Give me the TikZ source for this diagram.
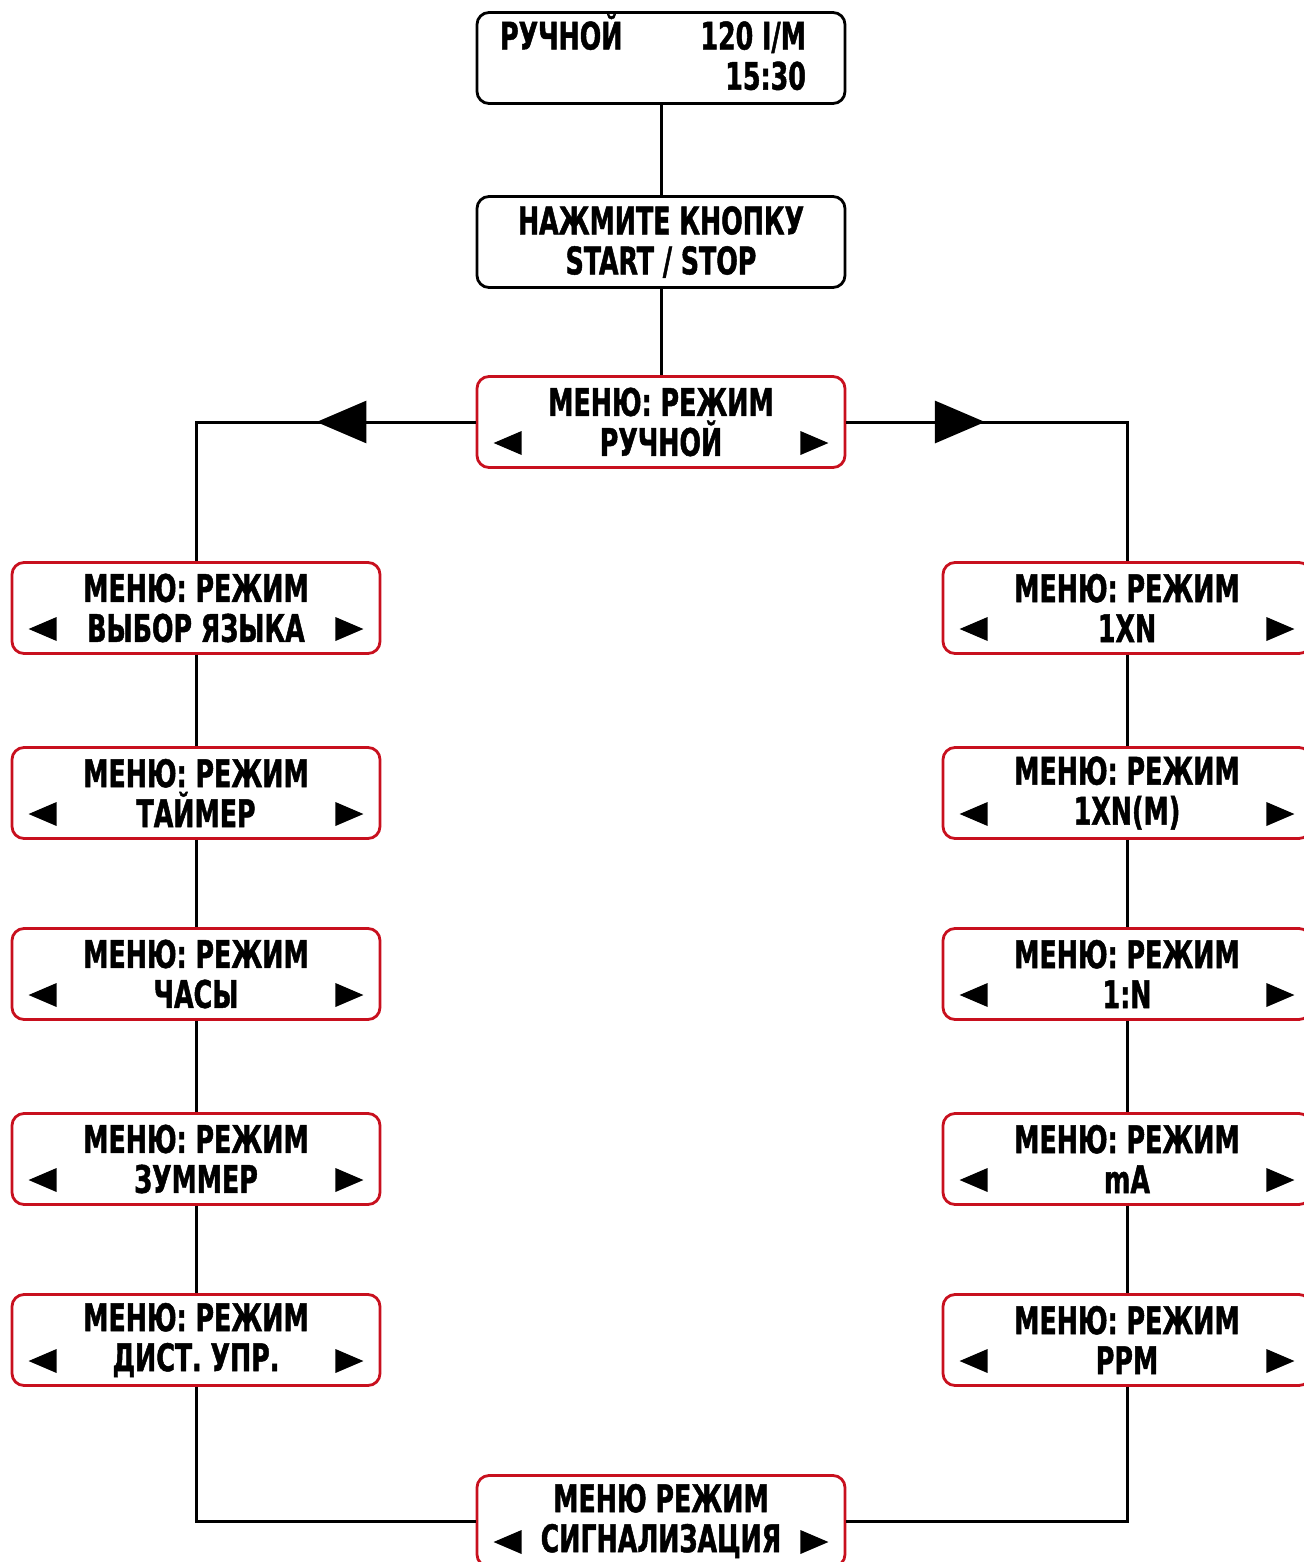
\documentclass[tikz,border=0pt]{standalone}
\usepackage{fontspec}
\newfontfamily\panelfont{DejaVu Sans Condensed Bold}[FakeStretch=0.74,FakeBold=1.2]
\usetikzlibrary{arrows.meta,calc,decorations.markings}
\definecolor{panelred}{RGB}{200,16,30}

\begin{document}
\begin{tikzpicture}[x=0.5pt,y=-0.5pt,
  panel/.style={draw,line width=1.4pt,rounded corners=6pt,minimum width=184pt,minimum height=45.5pt,
    inner sep=0pt,align=center,font=\panelfont\fontsize{19}{20}\selectfont},
  menu/.style={panel,draw=panelred},
  link/.style={line width=1.5pt},
  mid arrow/.style={postaction={decorate},decoration={markings,
    mark=at position #1 with {\arrow{Triangle[length=25pt,width=21pt]}}}}]
\useasboundingbox (0,0) rectangle (1304,1562);

% top of the menu
\node[panel] (display) at (661,58) {\begin{tabular}{@{}l@{\hspace{39pt}}r@{\hspace{8pt}}}РУЧНОЙ & 120 I/M\\ & 15:30\end{tabular}};
\node[panel] (press) at (661,242) {НАЖМИТЕ КНОПКУ\\START / STOP};
\node[menu] (manual) at (661,422) {МЕНЮ: РЕЖИМ\\РУЧНОЙ};

% left column
\node[menu] (lang) at (196,608) {МЕНЮ: РЕЖИМ\\ВЫБОР ЯЗЫКА};
\node[menu] (timer) at (196,793) {МЕНЮ: РЕЖИМ\\ТАЙМЕР};
\node[menu] (clock) at (196,974) {МЕНЮ: РЕЖИМ\\ЧАСЫ};
\node[menu] (buzzer) at (196,1159) {МЕНЮ: РЕЖИМ\\ЗУММЕР};
\node[menu] (remote) at (196,1340) {МЕНЮ: РЕЖИМ\\ДИСТ. УПР.};

% right column
\node[menu] (onexn) at (1127,608) {МЕНЮ: РЕЖИМ\\1XN};
\node[menu] (onexnm) at (1127,793) {МЕНЮ: РЕЖИМ\\1XN(M)};
\node[menu] (onen) at (1127,974) {МЕНЮ: РЕЖИМ\\1:N};
\node[menu] (mamp) at (1127,1159) {МЕНЮ: РЕЖИМ\\mA};
\node[menu] (ppm) at (1127,1340) {МЕНЮ: РЕЖИМ\\PPM};

\node[menu] (alarm) at (661,1521) {МЕНЮ РЕЖИМ\\СИГНАЛИЗАЦИЯ};

% small arrows on the second line
\foreach \n in {manual,lang,timer,clock,buzzer,remote,onexn,onexnm,onen,mamp,ppm,alarm} {
  \fill ($(\n.west)+(18,21)$) -- ++(28,-12) -- ++(0,24) -- cycle;
  \fill ($(\n.east)+(-18,21)$) -- ++(-28,-12) -- ++(0,24) -- cycle;
}

% links
\draw[link] (display) -- (press);
\draw[link] (press) -- (manual);
\draw[link,mid arrow=0.38] (manual.west) -| (lang.north);
\draw[link,mid arrow=0.33] (manual.east) -| (onexn.north);
\draw[link] (lang) -- (timer);
\draw[link] (timer) -- (clock);
\draw[link] (clock) -- (buzzer);
\draw[link] (buzzer) -- (remote);
\draw[link] (onexn) -- (onexnm);
\draw[link] (onexnm) -- (onen);
\draw[link] (onen) -- (mamp);
\draw[link] (mamp) -- (ppm);
\draw[link] (remote.south) |- (alarm.west);
\draw[link] (ppm.south) |- (alarm.east);
\end{tikzpicture}
\end{document}
